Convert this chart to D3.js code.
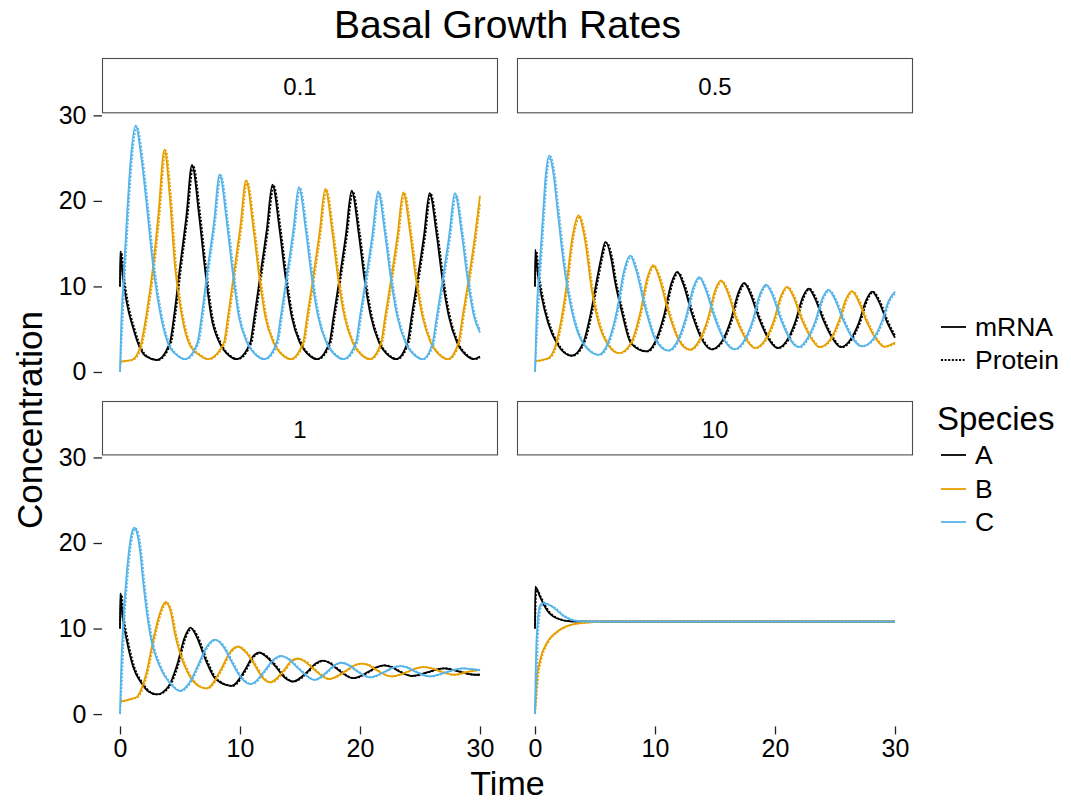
<!DOCTYPE html>
<html>
<head>
<meta charset="utf-8">
<script src="https://cdn.jsdelivr.net/npm/d3@7"></script>
<style>
  body { margin: 0; background: #fff; }
  svg { display: block; }
  text { font-family: "Liberation Sans", Arial, Helvetica, sans-serif; fill: #000; }
</style>
</head>
<body>
<svg id="chart" width="1071" height="804"></svg>
<script>
// ---- categories and tick labels ----
const facetLabels = ["0.1", "0.5", "1", "10"];
const speciesNames = ["A", "B", "C"];
const speciesColors = ["#000000", "#E69F00", "#56B4E9"];
const moleculeTypes = ["mRNA", "Protein"];
const timeTicks = [0, 10, 20, 30];
const concTicks = [0, 10, 20, 30];

// ---- mRNA concentration, [time, value], basal rate 0.1 ----
const mA01 = [[0,10.0],[0.02,14.1],[0.22,11.3],[0.55,8.2],[1.1,5.1],[1.66,2.8],[2.2,1.8],[3.05,1.4],
  [4.15,3.4],[4.5,6.5],[5.0,12.3],[5.53,18.2],[6.0,24.2],[6.6,18.2],[7.06,12.3],[7.6,6.5],[8.3,3.4],[9.1,1.9],[9.7,1.5],
  [10.85,3.4],[11.2,6.5],[11.7,11.4],[12.23,16.6],[12.7,21.9],[13.3,16.6],[13.76,11.4],[14.3,6.5],[15.0,3.4],[15.8,1.9],[16.4,1.5],
  [17.45,3.4],[17.8,6.5],[18.3,11.0],[18.83,16.1],[19.3,21.2],[19.9,16.1],[20.36,11.0],[20.9,6.5],[21.6,3.4],[22.4,1.9],[23.0,1.5],
  [23.95,3.4],[24.3,6.5],[24.8,10.9],[25.33,15.9],[25.8,20.9],[26.4,15.9],[26.86,10.9],[27.4,6.5],[28.1,3.4],[28.9,1.9],[29.5,1.5],[30,1.8]];
const mB01 = [[0,1.2],[0.5,1.3],[0.97,1.4],[1.66,2.8],[2.2,6.7],[2.77,12.5],[3.2,18.4],[3.7,26.0],[4.16,20.3],[4.57,12.5],[5.13,6.7],[5.8,3.2],[6.7,1.9],[7.3,1.5],
  [8.65,3.4],[9.0,6.5],[9.5,11.6],[10.03,17.0],[10.5,22.4],[11.1,17.0],[11.56,11.6],[12.1,6.5],[12.8,3.4],[13.6,1.9],[14.2,1.5],
  [15.25,3.4],[15.6,6.5],[16.1,11.1],[16.63,16.3],[17.1,21.4],[17.7,16.3],[18.16,11.1],[18.7,6.5],[19.4,3.4],[20.2,1.9],[20.8,1.5],
  [21.75,3.4],[22.1,6.5],[22.6,10.9],[23.13,16.0],[23.6,21.0],[24.2,16.0],[24.66,10.9],[25.2,6.5],[25.9,3.4],[26.7,1.9],[27.3,1.5],
  [28.2,3.4],[28.55,6.5],[29.05,10.8],[29.58,15.9],[30,20.6]];
const mC01 = [[0,0],[0.1,5.5],[0.28,10.6],[0.61,18.9],[0.89,24.8],[1.3,28.8],[1.8,24.8],[2.27,18.9],[2.7,13.1],[3.3,7.25],[4.0,3.35],[4.8,1.9],[5.4,1.5],
  [6.45,3.4],[6.8,6.5],[7.3,12.0],[7.83,17.5],[8.3,23.1],[8.9,17.5],[9.36,12.0],[9.9,6.5],[10.6,3.4],[11.4,1.9],[12.0,1.5],
  [13.05,3.4],[13.4,6.5],[13.9,11.2],[14.43,16.4],[14.9,21.6],[15.5,16.4],[15.96,11.2],[16.5,6.5],[17.2,3.4],[18.0,1.9],[18.6,1.5],
  [19.65,3.4],[20.0,6.5],[20.5,11.0],[21.03,16.0],[21.5,21.1],[22.1,16.0],[22.56,11.0],[23.1,6.5],[23.8,3.4],[24.6,1.9],[25.2,1.5],
  [26.05,3.4],[26.4,6.5],[26.9,10.9],[27.43,15.9],[27.9,20.9],[28.5,15.9],[28.96,10.9],[29.5,6.5],[30,4.6]];

// ---- protein concentration, basal rate 0.1 ----
const pA01 = [[0,10.0],[0.12,14.0],[0.32,11.3],[0.65,8.2],[1.2,5.1],[1.76,2.8],[2.3,1.8],[3.15,1.4],
  [4.25,3.4],[4.6,6.5],[5.1,12.3],[5.63,18.2],[6.1,24.1],[6.7,18.2],[7.16,12.3],[7.7,6.5],[8.4,3.4],[9.2,1.9],[9.8,1.5],
  [10.95,3.4],[11.3,6.5],[11.8,11.4],[12.33,16.6],[12.8,21.8],[13.4,16.6],[13.86,11.4],[14.4,6.5],[15.1,3.4],[15.9,1.9],[16.5,1.5],
  [17.55,3.4],[17.9,6.5],[18.4,11.0],[18.93,16.1],[19.4,21.1],[20.0,16.1],[20.46,11.0],[21.0,6.5],[21.7,3.4],[22.5,1.9],[23.1,1.5],
  [24.05,3.4],[24.4,6.5],[24.9,10.9],[25.43,15.9],[25.9,20.8],[26.5,15.9],[26.96,10.9],[27.5,6.5],[28.2,3.4],[29.0,1.9],[29.6,1.5],[30,1.7]];
const pB01 = [[0,1.1],[0.6,1.3],[1.07,1.4],[1.76,2.8],[2.3,6.7],[2.87,12.5],[3.3,18.4],[3.8,25.9],[4.26,20.3],[4.67,12.5],[5.23,6.7],[5.9,3.2],[6.8,1.9],[7.4,1.5],
  [8.75,3.4],[9.1,6.5],[9.6,11.6],[10.13,17.0],[10.6,22.3],[11.2,17.0],[11.66,11.6],[12.2,6.5],[12.9,3.4],[13.7,1.9],[14.3,1.5],
  [15.35,3.4],[15.7,6.5],[16.2,11.1],[16.73,16.3],[17.2,21.3],[17.8,16.3],[18.26,11.1],[18.8,6.5],[19.5,3.4],[20.3,1.9],[20.9,1.5],
  [21.85,3.4],[22.2,6.5],[22.7,10.9],[23.23,16.0],[23.7,20.9],[24.3,16.0],[24.76,10.9],[25.3,6.5],[26.0,3.4],[26.8,1.9],[27.4,1.5],
  [28.3,3.4],[28.65,6.5],[29.15,10.8],[29.68,15.9],[30,19.6]];
const pC01 = [[0,0],[0.2,5.5],[0.38,10.6],[0.71,18.9],[0.99,24.8],[1.4,28.7],[1.9,24.8],[2.37,18.9],[2.8,13.1],[3.4,7.25],[4.1,3.35],[4.9,1.9],[5.5,1.5],
  [6.55,3.4],[6.9,6.5],[7.4,12.0],[7.93,17.5],[8.4,23.0],[9.0,17.5],[9.46,12.0],[10.0,6.5],[10.7,3.4],[11.5,1.9],[12.1,1.5],
  [13.15,3.4],[13.5,6.5],[14.0,11.2],[14.53,16.4],[15.0,21.5],[15.6,16.4],[16.06,11.2],[16.6,6.5],[17.3,3.4],[18.1,1.9],[18.7,1.5],
  [19.75,3.4],[20.1,6.5],[20.6,11.0],[21.13,16.0],[21.6,21.0],[22.2,16.0],[22.66,11.0],[23.2,6.5],[23.9,3.4],[24.7,1.9],[25.3,1.5],
  [26.15,3.4],[26.5,6.5],[27.0,10.9],[27.53,15.9],[28.0,20.8],[28.6,15.9],[29.06,10.9],[29.6,6.5],[30,5.0]];

// ---- mRNA, basal rate 0.5 ----
const mA05 = [[0,10.0],[0.02,14.3],[0.2,11.8],[0.55,8.8],[1.1,5.7],[1.8,3.4],[2.4,2.3],[3.05,1.9],
  [4.0,3.35],[4.7,7.25],[5.2,11.1],[5.48,13.1],[5.87,15.2],[6.37,13.1],[6.6,11.1],[7.2,7.25],[8.0,3.35],[9.3,2.4],
  [10.0,3.5],[10.75,6.6],[11.35,10.3],[11.85,11.7],[12.35,10.3],[13.1,6.7],[13.95,3.7],[14.7,2.65],
  [15.58,3.6],[16.33,6.1],[16.93,9.2],[17.43,10.4],[17.93,9.2],[18.68,6.2],[19.53,3.7],[20.2,2.8],
  [20.95,3.6],[21.7,5.9],[22.3,8.7],[22.8,9.75],[23.3,8.7],[24.05,6.0],[24.9,3.7],[25.5,2.9],
  [26.25,3.7],[27.0,5.8],[27.6,8.4],[28.1,9.4],[28.6,8.4],[29.35,5.8],[30,4.0]];
const mB05 = [[0,1.3],[0.6,1.4],[1.2,1.7],[1.77,3.4],[2.52,9.0],[3.12,15.8],[3.62,18.3],[4.12,15.8],[4.75,9.4],[5.72,4.1],[7.0,2.2],
  [8.0,3.4],[8.75,6.8],[9.35,10.95],[9.85,12.5],[10.35,11.0],[11.1,7.1],[11.95,3.8],[12.9,2.6],
  [13.65,3.6],[14.4,6.2],[15.0,9.5],[15.5,10.7],[16.0,9.5],[16.75,6.3],[17.6,3.8],[18.3,2.8],
  [19.15,3.7],[19.9,6.0],[20.5,8.9],[21.0,9.95],[21.5,8.9],[22.25,6.05],[23.1,3.75],[23.7,2.9],
  [24.55,3.7],[25.3,5.85],[25.9,8.45],[26.4,9.45],[26.9,8.45],[27.65,5.85],[28.5,3.7],[29.1,2.95],[30,3.45]];
const mC05 = [[0,0],[0.12,6],[0.42,13.1],[0.69,18.9],[0.88,22.8],[1.19,25.3],[1.5,23.5],[1.88,18.9],[2.35,13.1],[3.05,7.25],[4.0,3.35],[5.3,2.0],
  [6.08,3.4],[6.83,7.2],[7.43,11.9],[7.93,13.6],[8.43,11.9],[9.18,7.5],[10.03,3.8],[11.1,2.5],
  [11.83,3.5],[12.58,6.4],[13.18,9.8],[13.68,11.1],[14.18,9.8],[14.93,6.5],[15.78,3.7],[16.6,2.65],
  [17.4,3.6],[18.15,6.05],[18.75,9.1],[19.25,10.2],[19.75,9.1],[20.5,6.1],[21.35,3.6],[22.0,2.9],
  [22.6,3.7],[23.35,5.9],[23.95,8.6],[24.45,9.6],[24.95,8.6],[25.7,6.0],[26.55,3.75],[27.2,3.0],
  [28.15,3.8],[28.9,5.9],[29.5,8.4],[30,9.4]];

// ---- protein, basal rate 0.5 ----
const pA05 = [[0,10.0],[0.12,14.1],[0.3,11.8],[0.65,8.8],[1.2,5.7],[1.9,3.4],[2.5,2.3],[3.15,1.9],
  [4.1,3.35],[4.8,7.25],[5.3,11.1],[5.58,13.1],[5.97,15.1],[6.47,13.1],[6.7,11.1],[7.3,7.25],[8.1,3.35],[9.4,2.4],
  [10.1,3.5],[10.85,6.6],[11.45,10.3],[11.95,11.6],[12.45,10.3],[13.2,6.7],[14.05,3.7],[14.8,2.65],
  [15.68,3.6],[16.43,6.1],[17.03,9.2],[17.53,10.3],[18.03,9.2],[18.78,6.2],[19.63,3.7],[20.3,2.8],
  [21.05,3.6],[21.8,5.9],[22.4,8.7],[22.9,9.7],[23.4,8.7],[24.15,6.0],[25.0,3.7],[25.6,2.9],
  [26.35,3.7],[27.1,5.8],[27.7,8.4],[28.2,9.35],[28.7,8.4],[29.45,5.8],[30,4.3]];
const pB05 = [[0,1.2],[0.7,1.4],[1.3,1.7],[1.87,3.4],[2.62,9.0],[3.22,15.8],[3.72,18.2],[4.22,15.8],[4.85,9.4],[5.82,4.1],[7.1,2.2],
  [8.1,3.4],[8.85,6.8],[9.45,10.95],[9.95,12.4],[10.45,11.0],[11.2,7.1],[12.05,3.8],[13.0,2.6],
  [13.75,3.6],[14.5,6.2],[15.1,9.5],[15.6,10.6],[16.1,9.5],[16.85,6.3],[17.7,3.8],[18.4,2.8],
  [19.25,3.7],[20.0,6.0],[20.6,8.9],[21.1,9.9],[21.6,8.9],[22.35,6.05],[23.2,3.75],[23.8,2.9],
  [24.65,3.7],[25.4,5.85],[26.0,8.45],[26.5,9.4],[27.0,8.45],[27.75,5.85],[28.6,3.7],[29.2,2.95],[30,3.3]];
const pC05 = [[0,0],[0.22,6],[0.52,13.1],[0.79,18.9],[0.98,22.8],[1.29,25.2],[1.6,23.5],[1.98,18.9],[2.45,13.1],[3.15,7.25],[4.1,3.35],[5.4,2.0],
  [6.18,3.4],[6.93,7.2],[7.53,11.9],[8.03,13.5],[8.53,11.9],[9.28,7.5],[10.13,3.8],[11.2,2.5],
  [11.93,3.5],[12.68,6.4],[13.28,9.8],[13.78,11.0],[14.28,9.8],[15.03,6.5],[15.88,3.7],[16.7,2.65],
  [17.5,3.6],[18.25,6.05],[18.85,9.1],[19.35,10.1],[19.85,9.1],[20.6,6.1],[21.45,3.6],[22.1,2.9],
  [22.7,3.7],[23.45,5.9],[24.05,8.6],[24.55,9.55],[25.05,8.6],[25.8,6.0],[26.65,3.75],[27.3,3.0],
  [28.25,3.8],[29.0,5.9],[29.6,8.4],[30,9.1]];

// ---- mRNA, basal rate 1 ----
const mA1 = [[0,10.0],[0.02,14.1],[0.2,11.5],[0.55,8.7],[1.1,5.5],[1.8,3.6],[2.4,2.6],[3.05,2.3],
  [4.02,3.2],[4.77,5.8],[5.37,8.9],[5.87,10.1],[6.37,9.1],[7.12,6.4],[7.97,4.1],[9.3,3.3],
  [10.45,5.25],[11.0,6.6],[11.6,7.2],[12.2,6.7],[13.0,5.5],[13.7,4.3],[14.4,3.8],
  [15.65,5.0],[16.3,5.9],[16.9,6.25],[17.5,5.95],[18.15,5.2],[19.4,4.2],
  [20.7,4.95],[21.4,5.5],[22.0,5.7],[22.6,5.5],[23.15,5.07],[24.3,4.45],
  [25.65,4.9],[26.35,5.2],[27.0,5.35],[27.65,5.2],[28.3,4.95],[29.5,4.6],[30,4.6]];
const mB1 = [[0,1.5],[0.5,1.6],[1.0,1.8],[1.4,2.0],[1.8,3.0],[2.2,4.8],[2.77,8.7],[3.33,11.8],[3.8,13.1],[4.25,11.8],[4.57,9.4],[5.0,7.1],[5.82,4.4],[6.65,3.2],[7.2,3.0],
  [8.5,5.45],[9.15,7.2],[9.83,7.9],[10.5,7.2],[11.2,5.8],[11.85,4.3],[12.5,3.7],
  [13.65,5.1],[14.2,6.1],[14.8,6.5],[15.4,6.15],[16.1,5.3],[17.4,4.1],
  [18.75,5.0],[19.45,5.65],[20.1,5.9],[20.75,5.7],[21.35,5.15],[22.6,4.4],
  [23.95,4.95],[24.65,5.35],[25.3,5.5],[25.95,5.35],[26.55,5.05],[27.8,4.6],[29.0,4.95],[30,5.2]];
const mC1 = [[0,0],[0.08,4.5],[0.22,9.4],[0.61,17.2],[0.9,20.6],[1.19,21.8],[1.45,21.0],[1.66,19.2],[1.94,15.3],[2.5,9.4],[3.33,5.5],[4.16,3.6],[5.0,2.7],
  [5.75,3.6],[6.5,5.7],[7.2,7.8],[7.9,8.7],[8.6,7.9],[9.3,6.1],[10.0,4.4],[10.9,3.5],
  [12.1,5.15],[12.75,6.3],[13.4,6.8],[14.05,6.4],[14.8,5.4],[16.2,4.0],
  [17.3,5.0],[17.85,5.7],[18.4,6.0],[19.0,5.75],[19.6,5.15],[20.8,4.3],
  [22.05,4.95],[22.7,5.4],[23.3,5.6],[23.9,5.45],[24.55,5.0],[25.8,4.4],
  [27.2,4.9],[27.9,5.2],[28.6,5.35],[29.3,5.25],[30,5.15]];

// ---- protein, basal rate 1 ----
const pA1 = [[0,10.0],[0.12,14.0],[0.3,11.5],[0.65,8.7],[1.2,5.5],[1.9,3.6],[2.5,2.6],[3.15,2.3],
  [4.12,3.2],[4.87,5.8],[5.47,8.9],[5.97,10.0],[6.47,9.1],[7.22,6.4],[8.07,4.1],[9.4,3.3],
  [10.55,5.25],[11.1,6.6],[11.7,7.15],[12.3,6.7],[13.1,5.5],[13.8,4.3],[14.5,3.8],
  [15.75,5.0],[16.4,5.9],[17.0,6.2],[17.6,5.95],[18.25,5.2],[19.5,4.2],
  [20.8,4.95],[21.5,5.5],[22.1,5.7],[22.7,5.5],[23.25,5.07],[24.4,4.45],
  [25.75,4.9],[26.45,5.2],[27.1,5.35],[27.75,5.2],[28.4,4.95],[29.6,4.6],[30,4.6]];
const pB1 = [[0,1.4],[0.6,1.6],[1.1,1.8],[1.5,2.0],[1.9,3.0],[2.3,4.8],[2.87,8.7],[3.43,11.8],[3.9,13.0],[4.35,11.8],[4.67,9.4],[5.1,7.1],[5.92,4.4],[6.75,3.2],[7.3,3.0],
  [8.6,5.45],[9.25,7.2],[9.93,7.85],[10.6,7.2],[11.3,5.8],[11.95,4.3],[12.6,3.7],
  [13.75,5.1],[14.3,6.1],[14.9,6.45],[15.5,6.15],[16.2,5.3],[17.5,4.1],
  [18.85,5.0],[19.55,5.65],[20.2,5.9],[20.85,5.7],[21.45,5.15],[22.7,4.4],
  [24.05,4.95],[24.75,5.35],[25.4,5.5],[26.05,5.35],[26.65,5.05],[27.9,4.6],[29.1,4.95],[30,5.15]];
const pC1 = [[0,0],[0.18,4.5],[0.32,9.4],[0.71,17.2],[1.0,20.6],[1.29,21.7],[1.55,21.0],[1.76,19.2],[2.04,15.3],[2.6,9.4],[3.43,5.5],[4.26,3.6],[5.1,2.7],
  [5.85,3.6],[6.6,5.7],[7.3,7.8],[8.0,8.65],[8.7,7.9],[9.4,6.1],[10.1,4.4],[11.0,3.5],
  [12.2,5.15],[12.85,6.3],[13.5,6.75],[14.15,6.4],[14.9,5.4],[16.3,4.0],
  [17.4,5.0],[17.95,5.7],[18.5,6.0],[19.1,5.75],[19.7,5.15],[20.9,4.3],
  [22.15,4.95],[22.8,5.4],[23.4,5.6],[24.0,5.45],[24.65,5.0],[25.9,4.4],
  [27.3,4.9],[28.0,5.2],[28.7,5.35],[29.4,5.25],[30,5.15]];

// ---- mRNA, basal rate 10 ----
const mA10 = [[0,10.0],[0.02,14.9],[0.42,13.7],[0.97,12.2],[1.8,11.2],[2.9,10.85],[4.5,10.8],[30,10.8]];
const mB10 = [[0,0.2],[0.06,2.5],[0.14,4.0],[0.42,6.3],[0.97,8.3],[1.8,9.6],[2.9,10.4],[4.3,10.7],[6.0,10.8],[30,10.8]];
const mC10 = [[0,0],[0.06,5.0],[0.14,9.0],[0.42,12.7],[0.7,13.0],[1.5,12.5],[2.35,11.5],[3.47,10.9],[5.0,10.8],[30,10.8]];

// ---- protein, basal rate 10 ----
const pA10 = [[0,10.0],[0.12,14.6],[0.52,13.6],[1.07,12.2],[1.9,11.2],[3.0,10.85],[4.6,10.8],[30,10.8]];
const pB10 = [[0,0.1],[0.16,2.5],[0.24,4.0],[0.52,6.3],[1.07,8.3],[1.9,9.6],[3.0,10.4],[4.4,10.7],[6.1,10.8],[30,10.8]];
const pC10 = [[0,0],[0.16,5.0],[0.24,9.0],[0.52,12.6],[0.8,12.9],[1.6,12.5],[2.45,11.5],[3.57,10.9],[5.1,10.8],[30,10.8]];

// ---- series table: one row per drawn line ----
const mrnaSets = [[mA01, mB01, mC01], [mA05, mB05, mC05], [mA1, mB1, mC1], [mA10, mB10, mC10]];
const proteinSets = [[pA01, pB01, pC01], [pA05, pB05, pC05], [pA1, pB1, pC1], [pA10, pB10, pC10]];
const seriesRows = [];
facetLabels.forEach((f, fi) => {
  speciesNames.forEach((s, si) => {
    seriesRows.push({ facet: fi, species: si, type: 0, points: mrnaSets[fi][si] });
    seriesRows.push({ facet: fi, species: si, type: 1, points: proteinSets[fi][si] });
  });
});

// ---- layout ----
const colEdges = [[102, 498], [517, 913]];
const rowEdges = [[113.3, 384.3], [455.4, 726.4]];
const stripEdges = [[58, 113.3], [401, 455.4]];

const svg = d3.select("#chart");
svg.append("rect").attr("width", 1071).attr("height", 804).attr("fill", "#fff");
const root = svg.append("g");

// shared scales (facets share axes), with 5% padding
const allVals = seriesRows.flatMap(r => r.points.map(p => p[1]));
const allTimes = seriesRows.flatMap(r => r.points.map(p => p[0]));
const yMin = 0, yMax = d3.max(allVals);
const tMin = d3.min(allTimes), tMax = d3.max(allTimes);
const yPad = (yMax - yMin) * 0.05, tPad = (tMax - tMin) * 0.05;

const dashProtein = "2,1.6";
const tickFont = 25;

facetLabels.forEach((label, fi) => {
  const col = fi % 2, row = Math.floor(fi / 2);
  const [c0, c1] = colEdges[col];
  const [r0, r1] = rowEdges[row];
  const [s0, s1] = stripEdges[row];

  const x = d3.scaleLinear().domain([tMin - tPad, tMax + tPad]).range([c0, c1]);
  const y = d3.scaleLinear().domain([yMin - yPad, yMax + yPad]).range([r1, r0]);

  const g = root.append("g");

  // strip
  g.append("rect")
    .attr("x", c0 + 0.5).attr("y", s0 + 0.5)
    .attr("width", c1 - c0 - 1).attr("height", s1 - s0 - 1)
    .attr("fill", "#fff").attr("stroke", "#4d4d4d").attr("stroke-width", 1.1);
  g.append("text")
    .attr("x", (c0 + c1) / 2).attr("y", (s0 + s1) / 2 + 1)
    .attr("text-anchor", "middle").attr("dominant-baseline", "central")
    .attr("font-size", 24).text(label);

  // y axis on the left column
  if (col === 0) {
    const ay = g.append("g").attr("transform", `translate(${c0},0)`)
      .call(d3.axisLeft(y).tickValues(concTicks).tickSize(8.5).tickPadding(7));
    ay.select(".domain").remove();
    ay.selectAll(".tick line").attr("stroke", "#222").attr("stroke-width", 1.3);
    ay.selectAll(".tick text").attr("font-size", tickFont).attr("fill", "#000")
      .attr("font-family", "Liberation Sans, Arial, sans-serif");
  }
  // x axis on the bottom row
  if (row === 1) {
    const ax = g.append("g").attr("transform", `translate(0,${r1})`)
      .call(d3.axisBottom(x).tickValues(timeTicks).tickSize(8).tickPadding(5));
    ax.select(".domain").remove();
    ax.selectAll(".tick line").attr("stroke", "#222").attr("stroke-width", 1.3);
    ax.selectAll(".tick text").attr("font-size", tickFont).attr("fill", "#000")
      .attr("font-family", "Liberation Sans, Arial, sans-serif");
  }

  // lines
  const line = d3.line().x(d => x(d[0])).y(d => y(d[1])).curve(d3.curveMonotoneX);
  const rows = seriesRows.filter(r => r.facet === fi);
  g.append("g").selectAll("path").data(rows).join("path")
    .attr("d", r => line(r.points))
    .attr("fill", "none")
    .attr("stroke", r => speciesColors[r.species])
    .attr("stroke-width", 1.8)
    .attr("stroke-linejoin", "round")
    .attr("stroke-dasharray", r => r.type === 1 ? dashProtein : null);
});

// title and axis titles
root.append("text").attr("x", 507.5).attr("y", 38).attr("text-anchor", "middle")
  .attr("font-size", 39).text("Basal Growth Rates");
root.append("text").attr("x", 507.5).attr("y", 795).attr("text-anchor", "middle")
  .attr("font-size", 34).text("Time");
root.append("text").attr("transform", `translate(42,420) rotate(-90)`)
  .attr("text-anchor", "middle").attr("font-size", 35).text("Concentration");

// legends
const lg = root.append("g");
const keyX0 = 941, keyX1 = 966, labX = 975;
const typeY = [327, 360];
moleculeTypes.forEach((t, i) => {
  lg.append("line").attr("x1", keyX0).attr("x2", keyX1).attr("y1", typeY[i]).attr("y2", typeY[i])
    .attr("stroke", "#000").attr("stroke-width", 1.8)
    .attr("stroke-dasharray", i === 1 ? dashProtein : null);
  lg.append("text").attr("x", labX).attr("y", typeY[i]).attr("dominant-baseline", "central")
    .attr("font-size", 26.5).text(t);
});
lg.append("text").attr("x", 937).attr("y", 418).attr("dominant-baseline", "central")
  .attr("font-size", 33).text("Species");
const spY = [455, 489, 522];
speciesNames.forEach((s, i) => {
  lg.append("line").attr("x1", keyX0).attr("x2", keyX1).attr("y1", spY[i]).attr("y2", spY[i])
    .attr("stroke", speciesColors[i]).attr("stroke-width", 1.8);
  lg.append("text").attr("x", labX).attr("y", spY[i]).attr("dominant-baseline", "central")
    .attr("font-size", 26.5).text(s);
});
</script>
</body>
</html>
